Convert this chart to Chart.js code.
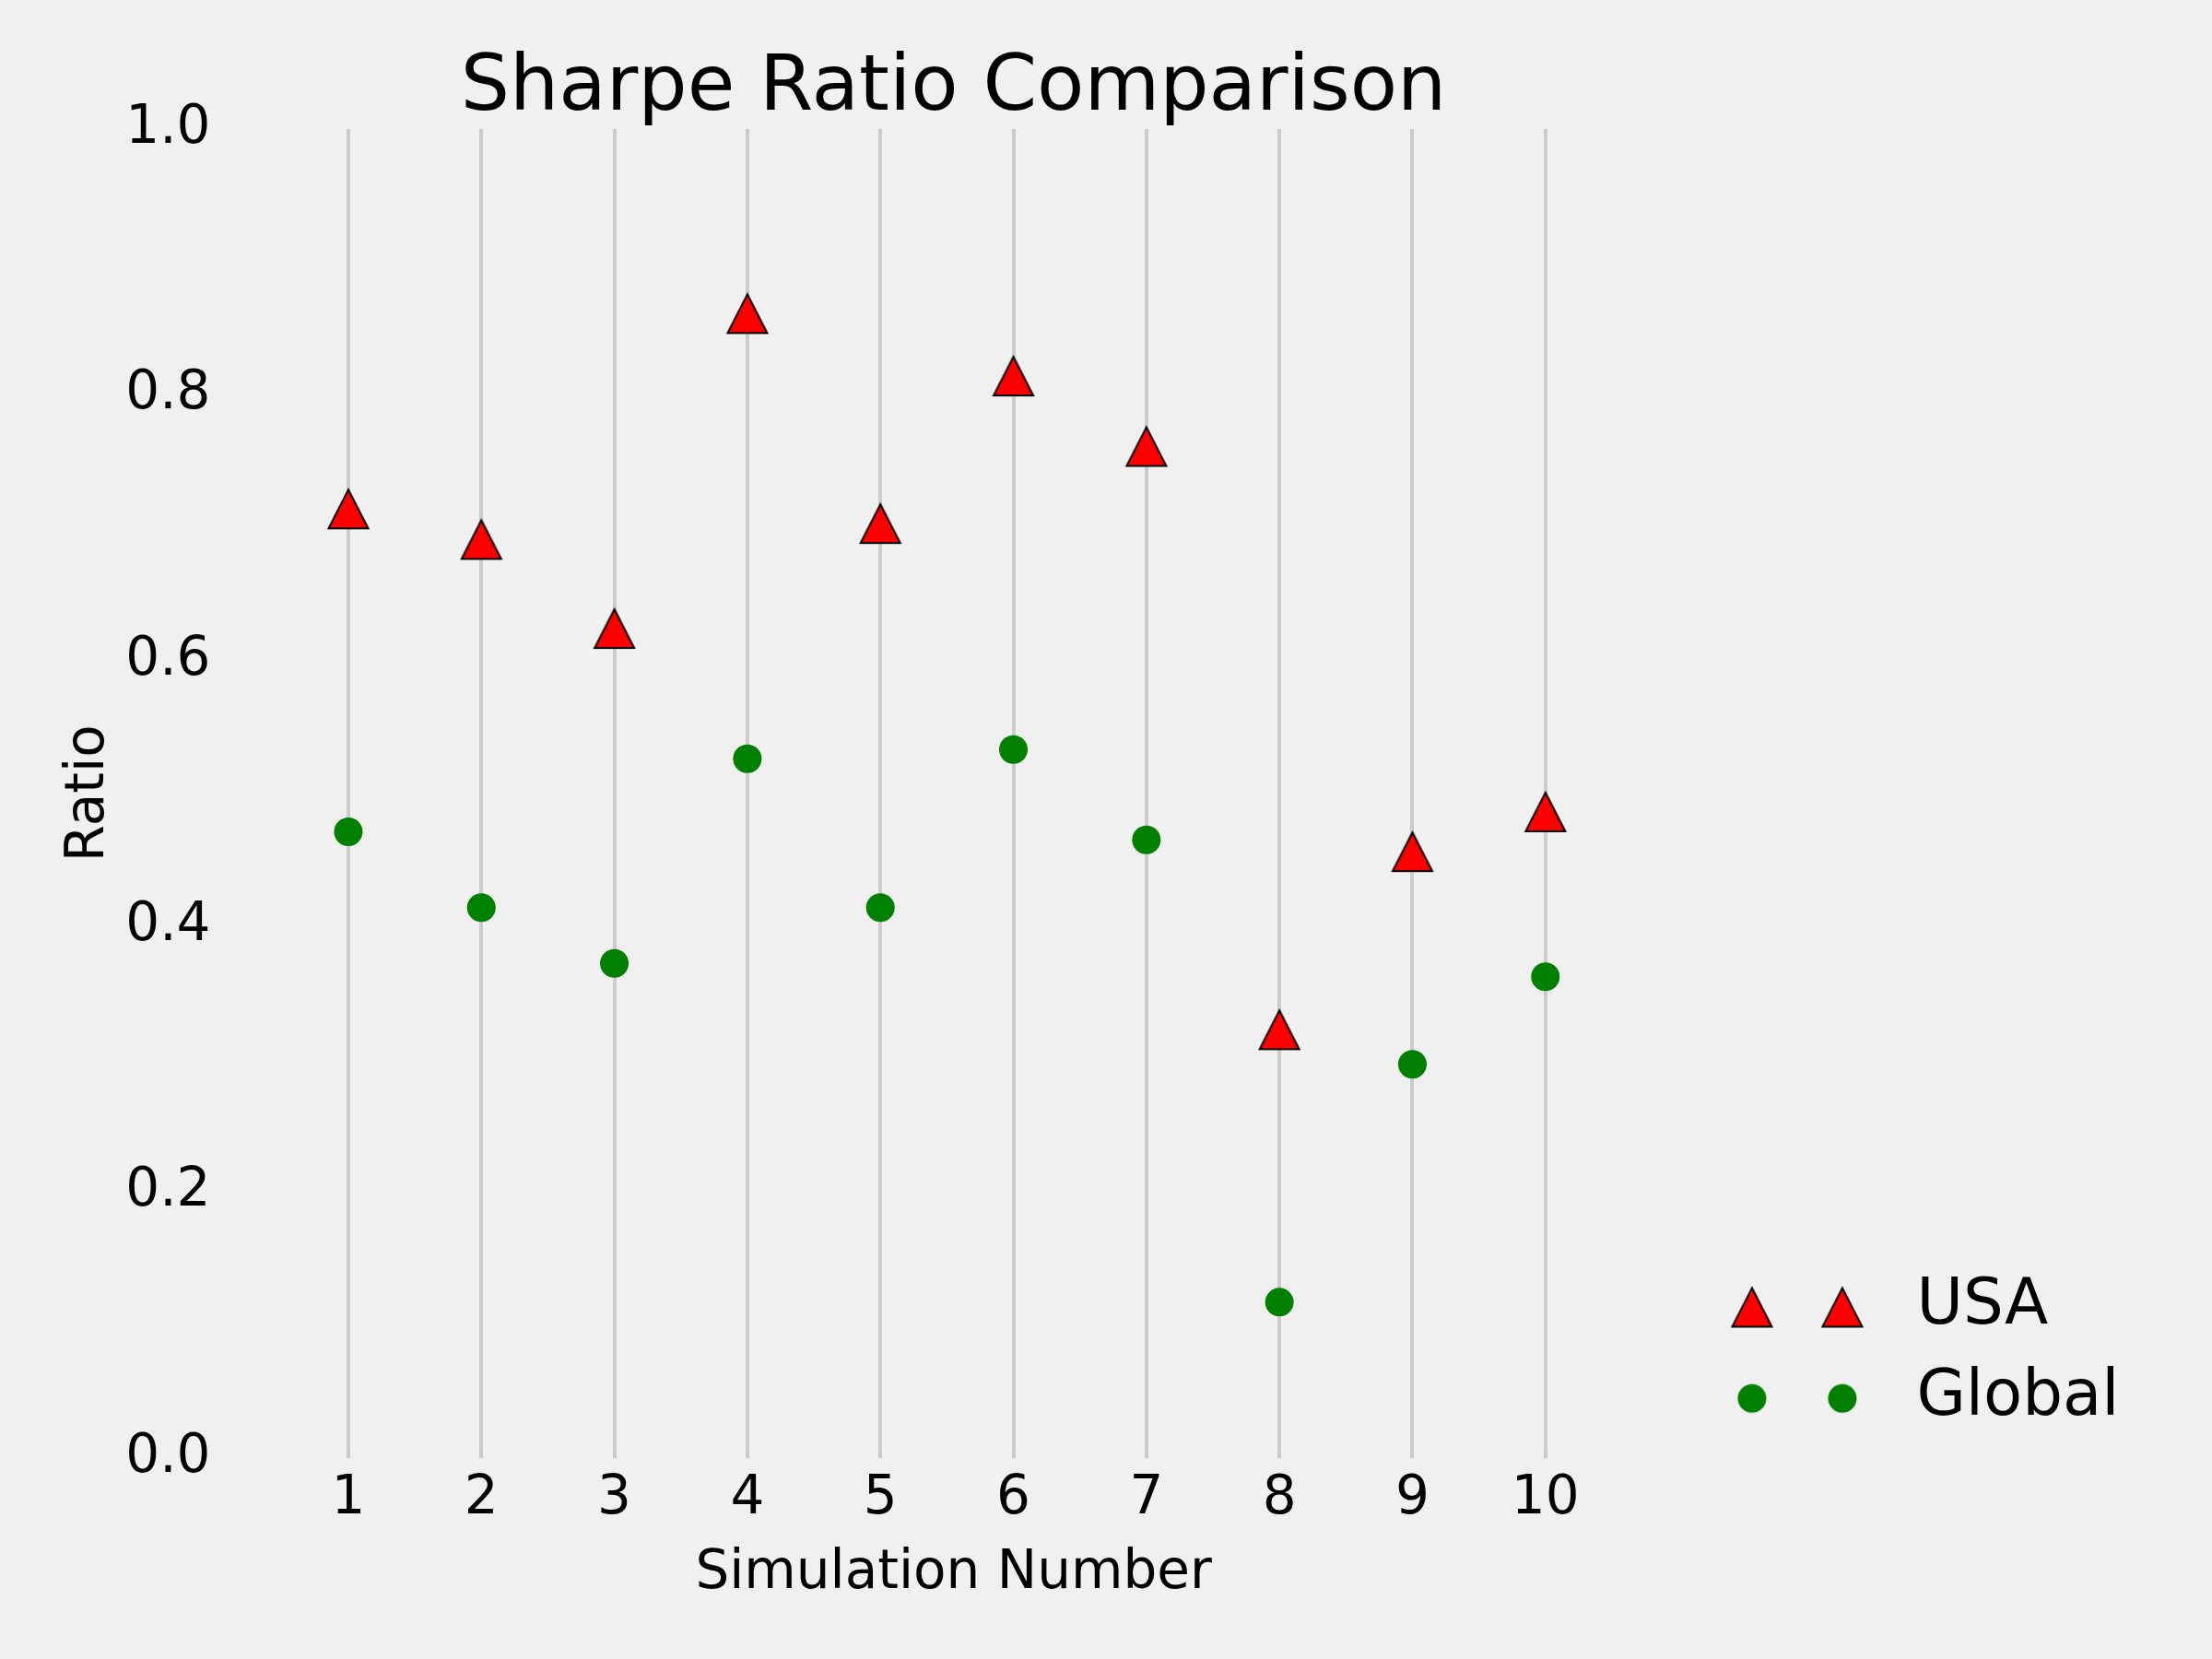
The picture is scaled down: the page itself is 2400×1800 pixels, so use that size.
<!DOCTYPE html>
<html>
<head>
<meta charset="utf-8">
<title>Sharpe Ratio Comparison</title>
<script src="https://cdn.jsdelivr.net/npm/chart.js@4.4.1/dist/chart.umd.min.js"></script>
<style>
  html, body { margin: 0; padding: 0; background: #f0f0f0; }
  canvas { display: block; }
</style>
</head>
<body>
<canvas id="sharpeChart" width="2400" height="1800"></canvas>
<script>
// Data
const simulations = [1, 2, 3, 4, 5, 6, 7, 8, 9, 10];
const usaRatios = [0.714, 0.691, 0.624, 0.861, 0.703, 0.814, 0.761, 0.322, 0.456, 0.486];
const globalRatios = [0.471, 0.414, 0.372, 0.526, 0.414, 0.533, 0.465, 0.117, 0.296, 0.362];
const yTicks = [0, 0.2, 0.4, 0.6, 0.8, 1.0];

const FONT = "'DejaVu Sans', 'Liberation Sans', sans-serif";
const RED = "#ff0000";
const GREEN = "#008000";

// matplotlib-like "^" marker: centred on its bounding box, black edge
function drawTriangle(g, cx, cy) {
    g.beginPath();
    g.moveTo(cx, cy - 21);
    g.lineTo(cx + 21.5, cy + 21);
    g.lineTo(cx - 21.5, cy + 21);
    g.closePath();
    g.fillStyle = RED;
    g.fill();
    g.lineWidth = 2;
    g.strokeStyle = "#000";
    g.stroke();
}

function drawDot(g, cx, cy) {
    g.beginPath();
    g.arc(cx, cy, 15.5, 0, Math.PI * 2);
    g.fillStyle = GREEN;
    g.fill();
}

function makeCanvas(w, h) {
    const c = document.createElement("canvas");
    c.width = w;
    c.height = h;
    return c;
}

const triangleImg = makeCanvas(48, 48);
drawTriangle(triangleImg.getContext("2d"), 24, 24);

// legend shows two markers per entry
const LEGEND_W = 259;
const usaLegendImg = makeCanvas(LEGEND_W, 50);
drawTriangle(usaLegendImg.getContext("2d"), 115, 25);
drawTriangle(usaLegendImg.getContext("2d"), 213, 25);
const globalLegendImg = makeCanvas(LEGEND_W, 50);
drawDot(globalLegendImg.getContext("2d"), 115, 25);
drawDot(globalLegendImg.getContext("2d"), 213, 25);

const ctx = document.getElementById("sharpeChart").getContext("2d");
const sharpeChart = new Chart(ctx, {
    type: "scatter",
    data: {
        datasets: [
            {
                label: "USA",
                data: simulations.map((s, i) => ({ x: s, y: usaRatios[i] })),
                pointStyle: triangleImg,
                backgroundColor: RED,
                borderColor: "#000",
            },
            {
                label: "Global",
                data: simulations.map((s, i) => ({ x: s, y: globalRatios[i] })),
                pointStyle: "circle",
                pointRadius: 15.5,
                backgroundColor: GREEN,
                borderWidth: 0,
            },
        ],
    },
    options: {
        responsive: false,
        animation: false,
        devicePixelRatio: 1,
        layout: { padding: { left: 0, top: 0, right: 90.5, bottom: 0 } },
        plugins: {
            tooltip: { enabled: false },
            title: {
                display: true,
                text: "Sharpe Ratio Comparison",
                color: "#000",
                fullSize: false,
                font: { family: FONT, size: 84, weight: "normal", lineHeight: 1.0 },
                padding: { top: 55.5, bottom: 0.5 },
            },
            legend: {
                position: "right",
                align: "end",
                fullSize: false,
                labels: {
                    usePointStyle: true,
                    pointStyleWidth: LEGEND_W,
                    padding: 29.75,
                    color: "#000",
                    font: { family: FONT, size: 69 },
                    generateLabels: () => [
                        { text: "USA", pointStyle: usaLegendImg, fillStyle: RED, strokeStyle: "#000", lineWidth: 0, hidden: false, datasetIndex: 0 },
                        { text: "Global", pointStyle: globalLegendImg, fillStyle: GREEN, strokeStyle: GREEN, lineWidth: 0, hidden: false, datasetIndex: 1 },
                    ],
                },
            },
        },
        scales: {
            x: {
                type: "linear",
                min: 0.55,
                max: 10.55,
                afterBuildTicks: (scale) => {
                    scale.ticks = simulations.map((v) => ({ value: v }));
                },
                afterFit: (scale) => {
                    scale.height = 218.5;
                },
                grid: { display: true, color: "#cbcbcb", lineWidth: 4, drawTicks: false },
                border: { display: false },
                ticks: {
                    autoSkip: false,
                    maxRotation: 0,
                    padding: 11,
                    color: "#000",
                    font: { family: FONT, size: 58 },
                    callback: (v) => String(v),
                },
                title: {
                    display: true,
                    text: "Simulation Number",
                    color: "#000",
                    font: { family: FONT, size: 58 },
                    padding: { top: 0, bottom: 57 },
                },
            },
            y: {
                min: 0,
                max: 1,
                afterBuildTicks: (scale) => {
                    scale.ticks = yTicks.map((v) => ({ value: v }));
                },
                afterFit: (scale) => {
                    scale.width = 313;
                },
                grid: { display: false, drawTicks: false },
                border: { display: false },
                ticks: {
                    padding: 84.5,
                    color: "#000",
                    font: { family: FONT, size: 58 },
                    callback: (v) => v.toFixed(1),
                },
                title: {
                    display: true,
                    text: "Ratio",
                    color: "#000",
                    font: { family: FONT, size: 58 },
                    padding: { top: 62, bottom: 0 },
                },
            },
        },
    },
});
</script>
</body>
</html>
